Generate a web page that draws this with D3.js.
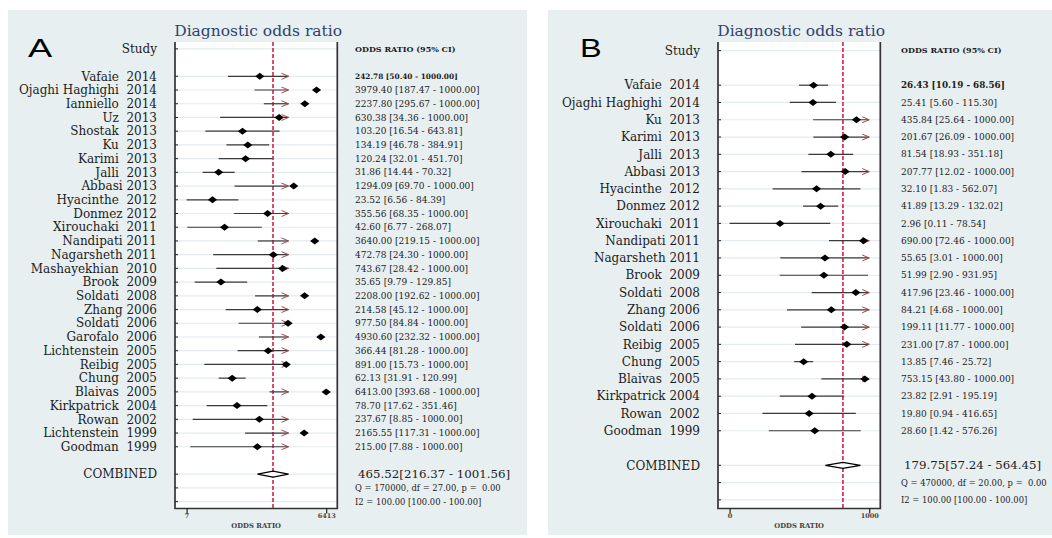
<!DOCTYPE html>
<html>
<head>
<meta charset="utf-8">
<script src="https://cdnjs.cloudflare.com/ajax/libs/d3/7.8.5/d3.min.js"></script>
<style>
  body { margin: 0; background: #fff; }
  text { font-family: "DejaVu Serif", serif; white-space: pre; fill: #1c1c1c; }
</style>
</head>
<body>
<div id="chart"></div>
<script>
//  ---------------  DATA  ---------------
// panel A
const studiesA = ["Vafaie  2014", "Ojaghi Haghighi  2014", "Ianniello  2014", "Uz  2013", "Shostak  2013",
  "Ku  2013", "Karimi  2013", "Jalli  2013", "Abbasi 2013", "Hyacinthe  2012", "Donmez 2012",
  "Xirouchaki  2011", "Nandipati 2011", "Nagarsheth 2011", "Mashayekhian  2010", "Brook  2009",
  "Soldati  2008", "Zhang 2006", "Soldati  2006", "Garofalo  2006", "Lichtenstein  2005",
  "Reibig  2005", "Chung  2005", "Blaivas  2005", "Kirkpatrick  2004", "Rowan  2002",
  "Lichtenstein  1999", "Goodman  1999"];
const orA = [242.78, 3979.40, 2237.80, 630.38, 103.20, 134.19, 120.24, 31.86, 1294.09, 23.52, 355.56,
  42.60, 3640.00, 472.78, 743.67, 35.65, 2208.00, 214.58, 977.50, 4930.60, 366.44, 891.00, 62.13,
  6413.00, 78.70, 237.67, 2165.55, 215.00];
const loA = [50.40, 187.47, 295.67, 34.36, 16.54, 46.78, 32.01, 14.44, 69.70, 6.56, 68.35, 6.77,
  219.15, 24.30, 28.42, 9.79, 192.62, 45.12, 84.84, 232.32, 81.28, 15.73, 31.91, 393.68, 17.62,
  8.85, 117.31, 7.88];
const hiA = [1000, 1000, 1000, 1000, 643.81, 384.91, 451.70, 70.32, 1000, 84.39, 1000, 268.07, 1000,
  1000, 1000, 129.85, 1000, 1000, 1000, 1000, 1000, 1000, 120.99, 1000, 351.46, 1000, 1000, 1000];
const combinedA = [465.52, 216.37, 1001.56];
const statsA = ["Q = 170000, df = 27.00, p =  0.00", "I2 = 100.00 [100.00 - 100.00]"];
const ticksA = [6.56, 6413];
const tickLabelsA = ["7", "6413"];

// panel B
const studiesB = ["Vafaie  2014", "Ojaghi Haghighi  2014", "Ku  2013", "Karimi  2013", "Jalli  2013",
  "Abbasi 2013", "Hyacinthe  2012", "Donmez 2012", "Xirouchaki  2011", "Nandipati 2011",
  "Nagarsheth 2011", "Brook  2009", "Soldati  2008", "Zhang 2006", "Soldati  2006", "Reibig  2005",
  "Chung  2005", "Blaivas  2005", "Kirkpatrick 2004", "Rowan  2002", "Goodman  1999"];
const orB = [26.43, 25.41, 435.84, 201.67, 81.54, 207.77, 32.10, 41.89, 2.96, 690.00, 55.65, 51.99,
  417.96, 84.21, 199.11, 231.00, 13.85, 753.15, 23.82, 19.80, 28.60];
const loB = [10.19, 5.60, 25.64, 26.09, 18.93, 12.02, 1.83, 13.29, 0.11, 72.46, 3.01, 2.90, 23.46,
  4.68, 11.77, 7.87, 7.46, 43.80, 2.91, 0.94, 1.42];
const hiB = [68.56, 115.30, 1000, 1000, 351.18, 1000, 562.07, 132.02, 78.54, 1000, 1000, 931.95,
  1000, 1000, 1000, 1000, 25.72, 1000, 195.19, 416.65, 576.26];
const combinedB = [179.75, 57.24, 564.45];
const statsB = ["Q = 470000, df = 20.00, p =  0.00", "I2 = 100.00 [100.00 - 100.00]"];
const ticksB = [0.11, 1000];
const tickLabelsB = ["0", "1000"];

const CLIP = 1000; // upper limits are truncated here and get an arrow

//  ---------------  SVG  ---------------
const w = 1052, h = 538;
const svg = d3.select("#chart").append("svg").attr("width", w).attr("height", h);

function drawPanel(p) {
  const g = svg.append("g").attr("transform", "translate(" + p.dx + ",0)");
  const n = p.studies.length;
  const left = 175, right = 337.3, top = 42, bottom = 508.5;

  // background
  g.append("rect").attr("x", p.bgX).attr("y", 10).attr("width", p.bgW).attr("height", 525)
    .attr("fill", "#e8eff1");
  g.append("rect").attr("x", left).attr("y", top).attr("width", right - left)
    .attr("height", bottom - top).attr("fill", "#fff");

  // scales
  const x = d3.scaleLog().domain(p.ticks).range([186.6, 326.2]);
  const y = d3.scaleLinear().domain([-2.5, n + 3.5]).range([top, bottom]);

  const rows = [-2].concat(d3.range(n), [n + 1, n + 2, n + 3]);

  // grid lines + row ticks
  g.selectAll(".grid").data(rows).enter().append("line")
    .attr("x1", left).attr("x2", right).attr("y1", (d) => y(d)).attr("y2", (d) => y(d))
    .attr("stroke", "#e3ebee").attr("stroke-width", 1.2);
  g.selectAll(".rtick").data(rows).enter().append("line")
    .attr("x1", left).attr("x2", left + 3).attr("y1", (d) => y(d)).attr("y2", (d) => y(d))
    .attr("stroke", "#222").attr("stroke-width", 1);

  // frame (no top)
  g.append("path")
    .attr("d", "M" + left + "," + top + "V" + bottom + "H" + right + "V" + top)
    .attr("fill", "none").attr("stroke", "#333").attr("stroke-width", 1.7);

  // x axis
  const xAxis = d3.axisBottom(x).tickValues(p.ticks).tickFormat((d, i) => p.tickLabels[i])
    .tickSize(5).tickSizeOuter(0);
  const ax = g.append("g").attr("transform", "translate(0," + bottom + ")").call(xAxis);
  ax.select(".domain").remove();
  ax.selectAll(".tick line").attr("stroke", "#222").attr("stroke-width", 1.2);
  ax.selectAll(".tick text").style("font-family", "DejaVu Serif").style("font-size", "6.5px")
    .style("font-weight", "bold").style("fill", "#444").attr("dy", "0.2em");
  g.append("text").attr("x", (left + right) / 2).attr("y", 528).attr("text-anchor", "middle")
    .attr("font-size", 6.8).attr("font-weight", "bold").style("fill", "#444").text("ODDS RATIO");

  // red dashed reference line at combined estimate
  g.append("line").attr("x1", x(p.combined[0])).attr("x2", x(p.combined[0]))
    .attr("y1", top).attr("y2", bottom)
    .attr("stroke", "#d81e4b").attr("stroke-width", 1.6).attr("stroke-dasharray", "4,2");

  // CI lines
  const idx = d3.range(n);
  g.selectAll(".ci").data(idx).enter().append("line")
    .attr("x1", (i) => x(p.lo[i])).attr("x2", (i) => x(Math.min(p.hi[i], CLIP)))
    .attr("y1", (i) => y(i)).attr("y2", (i) => y(i))
    .attr("stroke", "#3a3a3a").attr("stroke-width", 1.2);

  // arrows for truncated upper limits
  g.selectAll(".arrow").data(idx.filter((i) => p.hi[i] >= CLIP)).enter().append("path")
    .attr("d", (i) => {
      const ax0 = x(CLIP), ay = y(i);
      return "M" + (ax0 - 7) + "," + (ay - 3) + "L" + ax0 + "," + ay + "L" + (ax0 - 7) + "," + (ay + 3);
    })
    .attr("fill", "none").attr("stroke", "#a3484a").attr("stroke-width", 1);

  // point estimates
  g.selectAll(".pt").data(idx).enter().append("path")
    .attr("d", (i) => {
      const cx = x(p.or[i]), cy = y(i);
      return "M" + (cx - 4.6) + "," + cy + "L" + cx + "," + (cy - 3.5) + "L" + (cx + 4.6) + "," + cy +
        "L" + cx + "," + (cy + 3.5) + "Z";
    })
    .attr("fill", "#000");

  // combined diamond
  const cy = y(n + 1);
  g.append("path")
    .attr("d", "M" + x(p.combined[1]) + "," + cy + "L" + x(p.combined[0]) + "," + (cy - 3) +
      "L" + x(p.combined[2]) + "," + cy + "L" + x(p.combined[0]) + "," + (cy + 3) + "Z")
    .attr("fill", "#fff").attr("stroke", "#000").attr("stroke-width", 1.2);

  // ------------  TEXTS  ------------
  g.append("text").attr("transform", "translate(" + p.letterX + ",57) scale(" + p.letterSx + ",1)")
    .style("font-family", "Liberation Sans, Arial, sans-serif")
    .style("font-size", "25px").style("fill", "#000").text(p.letter);
  g.append("text").attr("x", (left + right) / 2 + 2).attr("y", 36).attr("text-anchor", "middle")
    .attr("font-size", 15.5).style("fill", "#2f4270").text("Diagnostic odds ratio");

  const labX = 157, valX = p.valX;
  g.append("text").attr("x", labX).attr("y", y(-2)).attr("dy", "0.35em").attr("text-anchor", "end")
    .attr("font-size", 12).text("Study");
  g.append("text").attr("x", valX).attr("y", y(-2)).attr("dy", "0.35em")
    .attr("font-size", 8).attr("font-weight", "bold").text("ODDS RATIO (95% CI)");

  g.selectAll(".lab").data(idx).enter().append("text")
    .attr("x", labX).attr("y", (i) => y(i)).attr("dy", "0.35em").attr("text-anchor", "end")
    .attr("font-size", 12).text((i) => p.studies[i]);
  g.append("text").attr("x", labX).attr("y", y(n + 1)).attr("dy", "0.35em")
    .attr("text-anchor", "end").attr("font-size", 12).text("COMBINED");

  g.selectAll(".val").data(idx).enter().append("text")
    .attr("x", valX).attr("y", (i) => y(i)).attr("dy", "0.35em")
    .attr("font-size", (i) => (i === 0 ? p.boldSize : 9))
    .attr("font-weight", (i) => (i === 0 ? "bold" : "normal"))
    .text((i) => p.or[i].toFixed(2) + " [" + p.lo[i].toFixed(2) + " - " + p.hi[i].toFixed(2) + "]");

  g.append("text").attr("x", valX + 3).attr("y", y(n + 1)).attr("dy", "0.35em")
    .attr("font-size", 11.8)
    .text(p.combined[0].toFixed(2) + "[" + p.combined[1].toFixed(2) + " - " + p.combined[2].toFixed(2) + "]");
  g.selectAll(".stat").data(p.stats).enter().append("text")
    .attr("x", valX).attr("y", (d, i) => y(n + 2 + i)).attr("dy", "0.35em")
    .attr("font-size", 8.4).text((d) => d);
}

drawPanel({ dx: 0, bgX: 8, bgW: 519, letter: "A", letterX: 28, letterSx: 1.45, valX: 355, boldSize: 7.4,
  studies: studiesA, or: orA, lo: loA, hi: hiA, combined: combinedA, stats: statsA,
  ticks: ticksA, tickLabels: tickLabelsA });
drawPanel({ dx: 543, bgX: 5, bgW: 520, letter: "B", letterX: 37, letterSx: 1.3, valX: 358, boldSize: 8.8,
  studies: studiesB, or: orB, lo: loB, hi: hiB, combined: combinedB, stats: statsB,
  ticks: ticksB, tickLabels: tickLabelsB });
</script>
</body>
</html>
